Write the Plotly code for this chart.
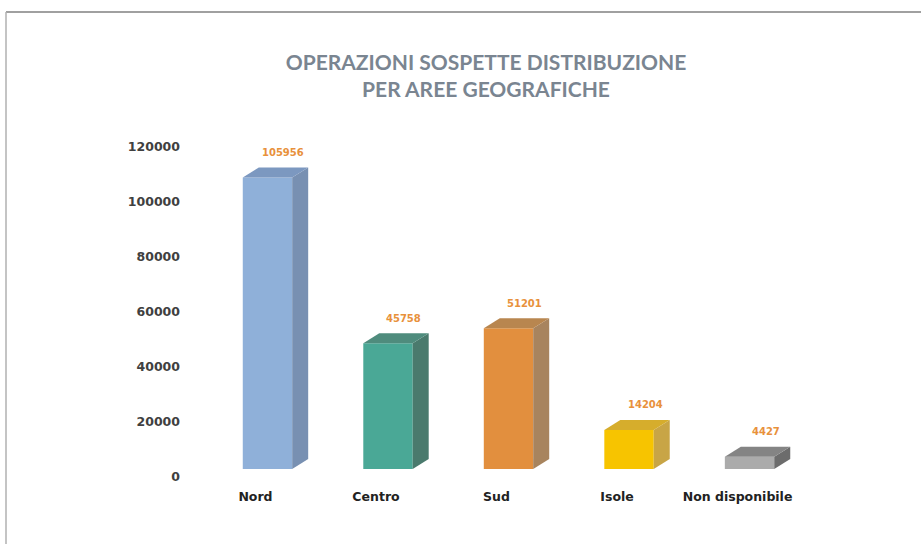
import plotly.graph_objects as go

# ---- data ----
categories = ["Nord", "Centro", "Sud", "Isole", "Non disponibile"]
values = [105956, 45758, 51201, 14204, 4427]
y_tick_values = [0, 20000, 40000, 60000, 80000, 100000, 120000]
title_text = "OPERAZIONI SOSPETTE DISTRIBUZIONE<br>PER AREE GEOGRAFICHE"

# ---- styles ----
front_colors = ["#8fb0d9", "#4aa896", "#e28f3e", "#f7c400", "#ababab"]
side_colors = ["#7890b2", "#4a7a6d", "#a8845e", "#c8a546", "#6c6c6c"]
top_colors = ["#7c98c0", "#4f8c7d", "#b8864f", "#d6ad2c", "#848484"]
label_color = "#e8913c"

W, H = 921, 544
ml, mr, mt, mb = 181, 63, 76, 67
pw = W - ml - mr
ph = H - mt - mb
shift_x = 12       # px: perspective offset of axis labels
shift_y = 8
px_per_unit = 120.5
px_per_1000 = 2.75
x_range = [-0.618, 4.9]
y_max = (ph - shift_y) / px_per_1000 * 1000

bar_w = 0.41
depth_x = 16 / px_per_unit
depth_y = 10 / px_per_1000 * 1000

positions = list(range(len(categories)))

fig = go.Figure()

# front faces
fig.add_trace(go.Bar(
    x=positions, y=values, width=bar_w,
    marker=dict(color=front_colors, line=dict(width=0)),
    hoverinfo="skip", showlegend=False,
))

# side and top faces (pseudo-3D)
for p, v, sc, tc in zip(positions, values, side_colors, top_colors):
    xr = p + bar_w / 2
    xl = p - bar_w / 2
    fig.add_trace(go.Scatter(
        x=[xr, xr + depth_x, xr + depth_x, xr, xr],
        y=[0, depth_y, v + depth_y, v, 0],
        fill="toself", fillcolor=sc, mode="lines", line=dict(width=0, color=sc),
        hoverinfo="skip", showlegend=False,
    ))
    fig.add_trace(go.Scatter(
        x=[xl, xl + depth_x, xr + depth_x, xr, xl],
        y=[v, v + depth_y, v + depth_y, v, v],
        fill="toself", fillcolor=tc, mode="lines", line=dict(width=0, color=tc),
        hoverinfo="skip", showlegend=False,
    ))

# dummy trace to show the labelling axes
fig.add_trace(go.Scatter(
    x=[0], y=[0], xaxis="x2", yaxis="y2", mode="markers",
    marker=dict(opacity=0), hoverinfo="skip", showlegend=False,
))

# data labels
for p, v in zip(positions, values):
    fig.add_annotation(
        x=p + depth_x, y=v + depth_y, xref="x", yref="y",
        text=str(v), showarrow=False, yshift=15,
        font=dict(family="DejaVu Sans", size=10, color=label_color, weight="bold"),
    )

fig.update_layout(
    width=W, height=H,
    margin=dict(l=ml, r=mr, t=mt, b=mb),
    paper_bgcolor="white", plot_bgcolor="rgba(0,0,0,0)",
    title=dict(
        text=title_text, x=486 / W, xanchor="center", xref="container",
        y=1 - 70 / H, yanchor="middle", yref="container",
        font=dict(family="Lato", size=21, color="#7a8591", weight="bold"),
    ),
    xaxis=dict(domain=[shift_x / pw, 1], range=x_range, visible=False, fixedrange=True),
    yaxis=dict(domain=[shift_y / ph, 1], range=[0, y_max], visible=False, fixedrange=True),
    xaxis2=dict(
        domain=[0, 1 - shift_x / pw], range=x_range, anchor="y2",
        tickvals=positions, ticktext=categories, ticks="",
        showgrid=False, zeroline=False, showline=False, ticklabelstandoff=10,
        tickfont=dict(family="DejaVu Sans", size=12.5, color="#222222", weight="bold"),
        fixedrange=True,
    ),
    yaxis2=dict(
        domain=[0, 1 - shift_y / ph], range=[0, y_max], anchor="x2",
        tickvals=y_tick_values, tickformat="d", ticks="",
        showgrid=False, zeroline=False, showline=False,
        tickfont=dict(family="DejaVu Sans", size=12.5, color="#404040", weight="bold"),
        fixedrange=True,
    ),
)

# outer frame (top and left border of the scanned chart box)
frame_top = (H - mb - 12) / ph
left_x = (6 - ml) / pw
fig.add_shape(type="line", xref="paper", yref="paper",
              x0=left_x, x1=(W + 10 - ml) / pw, y0=frame_top, y1=frame_top,
              line=dict(color="#a0a0a0", width=2))
fig.add_shape(type="line", xref="paper", yref="paper",
              x0=left_x, x1=left_x, y0=frame_top, y1=(H - mb - H - 10) / ph,
              line=dict(color="#b0b0b0", width=1.5))

fig.write_html(
    "out.html",
    config={"displayModeBar": False},
    post_script="document.body.style.margin='0px';document.body.style.overflow='hidden';",
)
